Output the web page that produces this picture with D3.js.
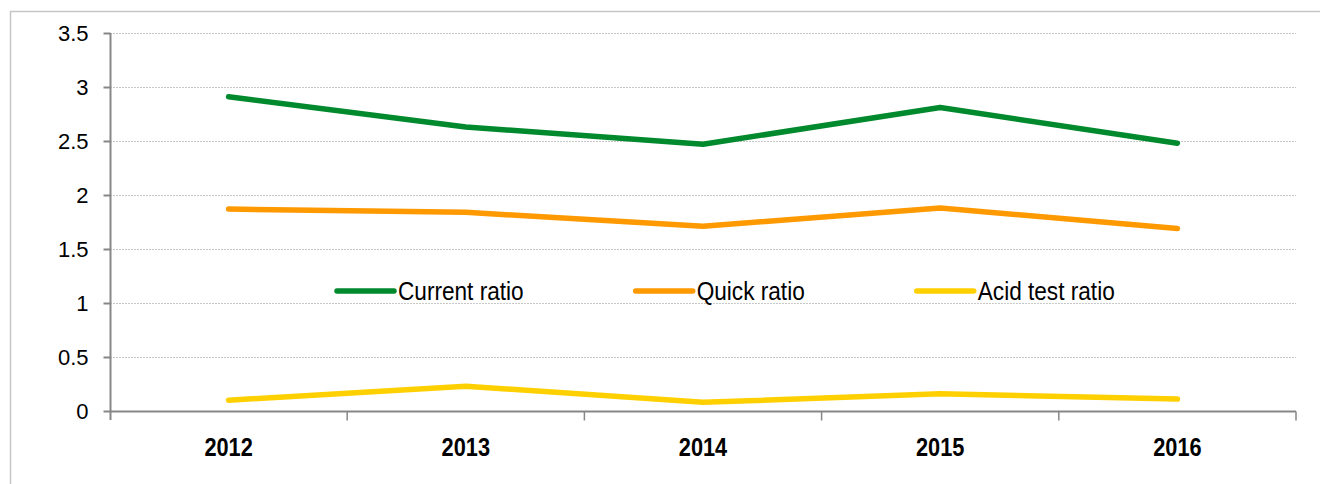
<!DOCTYPE html>
<html>
<head>
<meta charset="utf-8">
<script src="https://cdn.jsdelivr.net/npm/d3@7"></script>
<style>
  body { margin: 0; background: #fff; }
  svg { display: block; }
</style>
</head>
<body>
<svg id="chart" width="1320" height="484"></svg>
<script>
const years = ['2012', '2013', '2014', '2015', '2016'];
const currentRatio = [2.91, 2.63, 2.47, 2.81, 2.48];
const quickRatio = [1.87, 1.84, 1.71, 1.88, 1.69];
const acidTestRatio = [0.10, 0.23, 0.08, 0.16, 0.11];
const yTicks = [0, 0.5, 1, 1.5, 2, 2.5, 3, 3.5];
const seriesNames = ['Current ratio', 'Quick ratio', 'Acid test ratio'];
const seriesColors = ['#00892d', '#ff9900', '#ffd000'];

const series = [currentRatio, quickRatio, acidTestRatio].map((values, i) => ({
  name: seriesNames[i],
  color: seriesColors[i],
  values: values
}));

const svg = d3.select('#chart');
const margin = { left: 110, right: 24, top: 33, bottom: 73 };
const width = 1320;
const height = 484;
const narrow = 0.87; // no narrow font installed, squeeze horizontally instead

// outer frame
svg.append('rect')
  .attr('x', 10.5)
  .attr('y', 11.5)
  .attr('width', 1330)
  .attr('height', 500)
  .attr('fill', 'none')
  .attr('stroke', '#c6c6c6')
  .attr('stroke-width', 1.5);

const x = d3.scaleBand()
  .domain(years)
  .range([margin.left, width - margin.right])
  .padding(0);

const y = d3.scaleLinear()
  .domain([0, 3.5])
  .range([height - margin.bottom, margin.top]);

// gridlines
svg.append('g')
  .selectAll('line')
  .data(yTicks.filter(d => d > 0))
  .enter().append('line')
  .attr('x1', margin.left)
  .attr('x2', width - margin.right)
  .attr('y1', d => Math.round(y(d)) + 0.5)
  .attr('y2', d => Math.round(y(d)) + 0.5)
  .attr('stroke', '#c8c8c8')
  .attr('stroke-width', 1)
  .attr('stroke-dasharray', '2,1');

// y axis
const yAxis = svg.append('g')
  .attr('transform', `translate(${margin.left + 0.5},0)`)
  .call(d3.axisLeft(y).tickValues(yTicks).tickSize(7).tickPadding(15).tickFormat(d3.format('')));
yAxis.select('.domain')
  .attr('d', `M0,${y(3.5)}V${y(0) + 9}`);
yAxis.selectAll('line, .domain').attr('stroke', '#878787').attr('stroke-width', 2);
yAxis.selectAll('text')
  .attr('font-family', 'Liberation Sans, Arial, sans-serif')
  .attr('font-size', 22)
  .attr('fill', '#000')
  .attr('dy', '0.36em');

// x axis: ticks at category boundaries
const xAxisG = svg.append('g').attr('transform', `translate(0,${y(0) + 0.5})`);
xAxisG.append('line')
  .attr('x1', margin.left)
  .attr('x2', width - margin.right)
  .attr('stroke', '#878787')
  .attr('stroke-width', 2);
const boundaries = years.map(d => x(d)).concat([x(years[years.length - 1]) + x.bandwidth()]);
xAxisG.selectAll('.tick')
  .data(boundaries.slice(1))
  .enter().append('line')
  .attr('x1', d => d)
  .attr('x2', d => d)
  .attr('y1', 0)
  .attr('y2', 9)
  .attr('stroke', '#878787')
  .attr('stroke-width', 1.5);
xAxisG.selectAll('text')
  .data(years)
  .enter().append('text')
  .attr('transform', d => `translate(${x(d) + x.bandwidth() / 2},44) scale(${narrow},1)`)
  .attr('text-anchor', 'middle')
  .attr('font-family', 'Liberation Sans, Arial, sans-serif')
  .attr('font-weight', 'bold')
  .attr('font-size', 25)
  .attr('fill', '#000')
  .text(d => d);

// lines
const line = d3.line()
  .x((d, i) => x(years[i]) + x.bandwidth() / 2)
  .y(d => y(d));

svg.append('g')
  .selectAll('path')
  .data(series)
  .enter().append('path')
  .attr('d', d => line(d.values))
  .attr('fill', 'none')
  .attr('stroke', d => d.color)
  .attr('stroke-width', 5.5)
  .attr('stroke-linecap', 'round')
  .attr('stroke-linejoin', 'round');

// legend
const legend = svg.append('g');
let lx = 337;
const ly = 291;
series.forEach(s => {
  legend.append('line')
    .attr('x1', lx)
    .attr('x2', lx + 57)
    .attr('y1', ly)
    .attr('y2', ly)
    .attr('stroke', s.color)
    .attr('stroke-width', 5.5)
    .attr('stroke-linecap', 'round');
  const t = legend.append('text')
    .attr('transform', `translate(${lx + 61},${ly + 9}) scale(${narrow},1)`)
    .attr('font-family', 'Liberation Sans, Arial, sans-serif')
    .attr('font-size', 26)
    .attr('fill', '#000')
    .text(s.name);
  lx = lx + 61 + t.node().getComputedTextLength() * narrow + 112;
});
</script>
</body>
</html>
